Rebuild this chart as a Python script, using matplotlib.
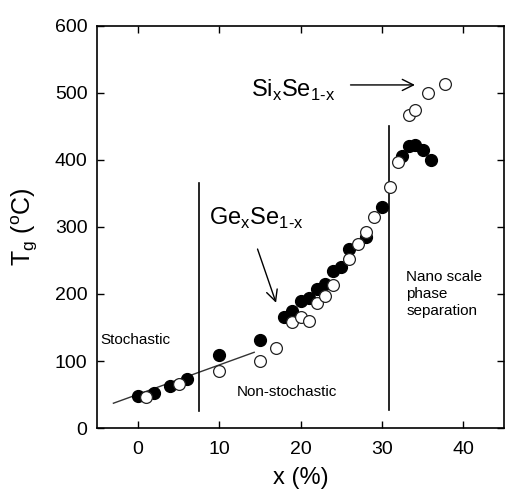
import matplotlib
matplotlib.use('Agg')
import matplotlib.pyplot as plt

plt.rcParams['font.family'] = ['Liberation Sans', 'DejaVu Sans']
plt.rcParams['mathtext.fontset'] = 'custom'
plt.rcParams['mathtext.rm'] = 'Liberation Sans'

# filled circles (Ge-Se)
ge_x = [0, 2, 4, 6, 10, 15, 18, 19, 20, 21, 22, 23, 24, 25, 26, 28, 30,
        32.5, 33.3, 34.1, 35, 36]
ge_tg = [48, 53, 63, 73, 109, 132, 166, 174, 189, 194, 208, 215, 235, 240,
         267, 285, 330, 406, 421, 422, 415, 400]

# open circles (Si-Se)
si_x = [1, 5, 10, 15, 17, 19, 20, 21, 22, 23, 24, 26, 27, 28, 29, 31, 32,
        33.3, 34.1, 35.7, 37.7]
si_tg = [47, 65, 85, 100, 119, 158, 165, 160, 186, 197, 213, 252, 274,
         292, 315, 359, 397, 467, 475, 500, 513]

# linear fit in the stochastic region
fit_x = [-3, 14.3]
fit_tg = [37, 113]

# region boundaries
bound_x = [7.5, 30.9]
bound_lo = [25, 27]
bound_hi = [366, 451]

x_ticks = [0, 10, 20, 30, 40]
y_ticks = [0, 100, 200, 300, 400, 500, 600]

fig = plt.figure(figsize=(5.06, 4.90), dpi=100)
ax = fig.add_axes([0.192, 0.1265, 0.804, 0.8205])

ax.plot(fit_x, fit_tg, color='#333333', lw=1.0, zorder=1)
for bx, lo, hi in zip(bound_x, bound_lo, bound_hi):
    ax.plot([bx, bx], [lo, hi], color='black', lw=1.2, zorder=1)

ax.plot(ge_x, ge_tg, 'o', ms=8.5, mfc='black', mec='black', zorder=2)
ax.plot(si_x, si_tg, 'o', ms=8.5, mfc='white', mec='#222222', mew=0.9, zorder=3)

ax.text(-4.6, 131, 'Stochastic', fontsize=11, va='center', ha='left')
ax.text(12.2, 54, 'Non-stochastic', fontsize=11, va='center', ha='left')
ax.text(33.0, 200, 'Nano scale\nphase\nseparation', fontsize=11,
        va='center', ha='left', linespacing=1.3)

ax.text(8.7, 303, r'Ge$_\mathregular{x}$Se$_\mathregular{1\text{-}x}$',
        fontsize=17, va='baseline', ha='left')
ax.annotate('', xy=(17.1, 183), xytext=(14.6, 271),
            arrowprops=dict(arrowstyle='->', lw=1.0, color='black',
                            mutation_scale=20))
ax.text(24.2, 494, r'Si$_\mathregular{x}$Se$_\mathregular{1\text{-}x}$',
        fontsize=17, va='baseline', ha='right')
ax.annotate('', xy=(34.4, 512), xytext=(25.8, 512),
            arrowprops=dict(arrowstyle='->', lw=1.0, color='black',
                            mutation_scale=20))

ax.set_xlim(-5, 45)
ax.set_ylim(0, 600)
ax.set_xticks(x_ticks)
ax.set_yticks(y_ticks)
ax.tick_params(direction='in', top=True, right=True, length=5, width=1.0,
               labelsize=14)
ax.tick_params(axis='x', pad=9)
ax.tick_params(axis='y', pad=7)
for s in ax.spines.values():
    s.set_linewidth(1.2)

ax.set_xlabel('x (%)', fontsize=17, labelpad=7)
ax.set_ylabel(r'T$_\mathregular{g}$ ($^\mathregular{o}$C)', fontsize=18)
ax.yaxis.set_label_coords(-0.14, 0.5)

fig.savefig('out.png', dpi=100)
